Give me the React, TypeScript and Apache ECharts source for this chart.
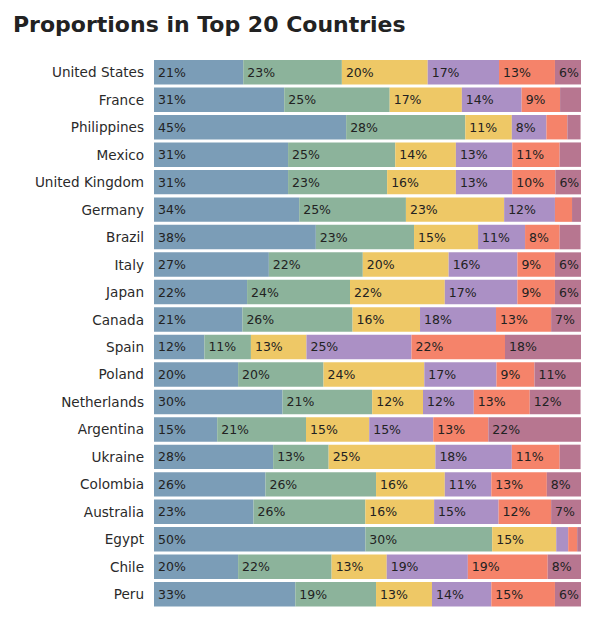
import React, { useEffect, useRef } from "react";
import * as echarts from "echarts";

const countries = [
  "United States", "France", "Philippines", "Mexico", "United Kingdom",
  "Germany", "Brazil", "Italy", "Japan", "Canada", "Spain", "Poland",
  "Netherlands", "Argentina", "Ukraine", "Colombia", "Australia", "Egypt",
  "Chile", "Peru",
];

const seg1 = [20.9, 30.5, 45.0, 31.4, 31.4, 34.0, 37.9, 26.9, 21.8, 20.7, 11.8, 19.7, 30.1, 14.8, 27.9, 26.1, 23.3, 49.5, 19.7, 33.1];
const seg2 = [23.1, 24.7, 27.9, 25.1, 23.2, 25.0, 23.0, 22.0, 24.1, 25.8, 10.9, 20.0, 21.0, 20.8, 13.0, 25.9, 26.2, 29.7, 21.9, 18.9];
const seg3 = [20.1, 16.9, 10.9, 14.2, 16.1, 23.0, 15.0, 20.1, 22.2, 15.8, 13.0, 23.6, 11.9, 14.8, 25.0, 16.1, 16.1, 15.0, 12.9, 13.1];
const seg4 = [16.7, 14.0, 8.1, 13.2, 13.2, 11.9, 11.0, 16.1, 17.0, 17.8, 24.6, 16.9, 11.9, 15.0, 17.9, 10.9, 15.1, 2.8, 19.0, 13.9];
const seg5 = [13.1, 9.0, 4.9, 11.1, 10.1, 4.0, 8.1, 8.8, 8.8, 12.9, 21.9, 8.9, 13.1, 12.9, 11.2, 13.0, 12.3, 2.1, 18.7, 14.9];
const seg6 = [6.1, 4.9, 3.1, 5.1, 6.1, 2.1, 4.9, 6.1, 6.1, 7.0, 17.8, 10.9, 11.9, 21.7, 4.9, 8.0, 7.0, 0.9, 8.0, 6.1];

const segmentNames = ["Segment 1", "Segment 2", "Segment 3", "Segment 4", "Segment 5", "Segment 6"];
const segmentData = [seg1, seg2, seg3, seg4, seg5, seg6];
const colors = ["#7b9db7", "#8cb39b", "#eec866", "#ab90c5", "#f5836a", "#b77690"];

export default function App() {
  const ref = useRef<HTMLDivElement>(null);
  useEffect(() => {
    if (!ref.current) return;
    const chart = echarts.init(ref.current, null, { renderer: "svg" });
    chart.setOption({
      animation: false,
      title: {
        text: "Proportions in Top 20 Countries",
        left: 8,
        top: 8,
        textStyle: {
          fontFamily: "DejaVu Sans",
          fontWeight: "bold",
          fontSize: 22,
          color: "#222",
        },
      },
      grid: { left: 154, right: 24, top: 58.5, bottom: 21, containLabel: false },
      xAxis: { type: "value", min: 0, max: 100, show: false },
      yAxis: {
        type: "category",
        data: countries,
        inverse: true,
        axisLine: { show: false },
        axisTick: { show: false },
        axisLabel: {
          fontFamily: "DejaVu Sans",
          fontSize: 13.6,
          color: "#2a2a2a",
          margin: 10,
        },
      },
      series: segmentData.map((d, i) => ({
        name: segmentNames[i],
        type: "bar",
        stack: "total",
        data: d,
        barCategoryGap: "11%",
        itemStyle: { color: colors[i] },
        label: {
          show: true,
          position: "insideLeft",
          distance: 4,
          fontFamily: "DejaVu Sans",
          fontSize: 12.5,
          color: "#222",
          formatter: (p: any) => (p.value >= 5.5 ? Math.round(p.value) + "%" : ""),
        },
      })),
    });
    return () => chart.dispose();
  }, []);
  return <div ref={ref} style={{ width: 605, height: 629, margin: -8 }} />;
}
